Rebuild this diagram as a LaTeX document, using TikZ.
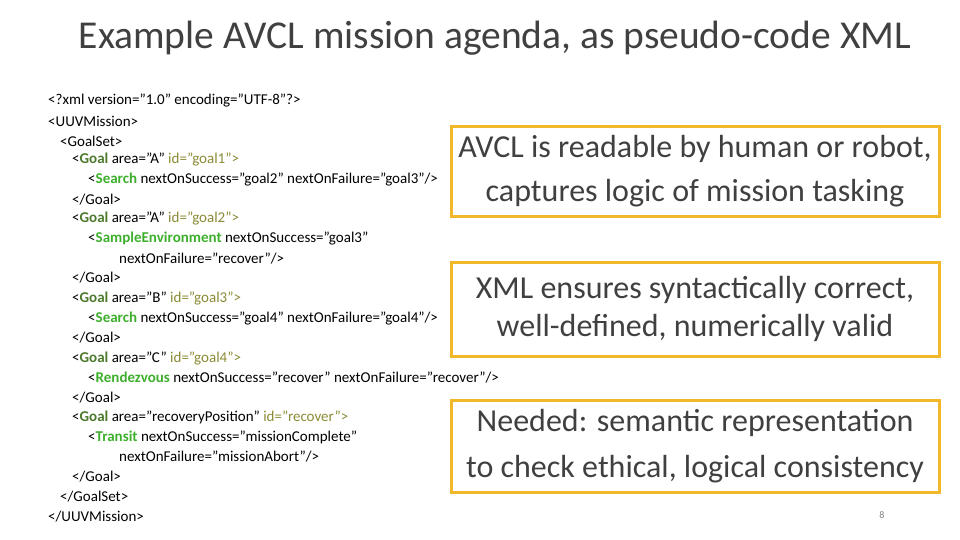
\documentclass[tikz,border=0pt]{standalone}
\usepackage{fontspec}
\setmainfont{Carlito}
\usetikzlibrary{positioning}
\definecolor{boxgold}{HTML}{F2B82C}
\definecolor{textgray}{HTML}{404040}
\definecolor{tagolive}{HTML}{4E7A2E}
\definecolor{attrolive}{HTML}{8A8A35}
\definecolor{elemgreen}{HTML}{3DAF2C}
\newcommand{\tg}[1]{\textcolor{tagolive}{\textbf{#1}}}
\newcommand{\el}[1]{\textcolor{elemgreen}{\textbf{#1}}}
\newcommand{\at}[1]{\textcolor{attrolive}{#1}}
\tikzset{
  codeline/.style={anchor=west, inner sep=0pt, font=\fontsize{15}{16}\selectfont},
  notebox/.style={draw=boxgold, line width=3pt, minimum width=488pt, align=center,
    text=textgray, font=\fontsize{32}{44}\selectfont}
}
\begin{document}
\begin{tikzpicture}[x=1pt, y=-1pt]
\useasboundingbox (0,0) rectangle (960,540);

% Title
\node[font=\fontsize{39.5}{44}\selectfont, text=textgray] (title) at (495,38) {Example AVCL mission agenda, as pseudo-code XML};

% XML listing
\node[codeline] (l1)  at (48,101) {<?xml version="1.0" encoding="UTF-8"?>};
\node[codeline] (l2)  at (48,121) {<UUVMission>};
\node[codeline] (l3)  at (60,141) {<GoalSet>};
\node[codeline] (l4)  at (72,160) {<\tg{Goal} area=”A” \at{id=”goal1”>}};
\node[codeline] (l5)  at (88,180) {<\el{Search} nextOnSuccess=”goal2” nextOnFailure=”goal3”/>};
\node[codeline] (l6)  at (72,200) {</Goal>};
\node[codeline] (l7)  at (72,219) {<\tg{Goal} area=”A” \at{id=”goal2”>}};
\node[codeline] (l8)  at (88,239) {<\el{SampleEnvironment} nextOnSuccess=”goal3”};
\node[codeline] (l9)  at (119,259) {nextOnFailure=”recover”/>};
\node[codeline] (l10) at (72,278) {</Goal>};
\node[codeline] (l11) at (72,298) {<\tg{Goal} area=”B” \at{id=”goal3”>}};
\node[codeline] (l12) at (88,318) {<\el{Search} nextOnSuccess=”goal4” nextOnFailure=”goal4”/>};
\node[codeline] (l13) at (72,338) {</Goal>};
\node[codeline] (l14) at (72,358) {<\tg{Goal} area=”C” \at{id=”goal4”>}};
\node[codeline] (l15) at (88,378) {<\el{Rendezvous} nextOnSuccess=”recover” nextOnFailure=”recover”/>};
\node[codeline] (l16) at (72,398) {</Goal>};
\node[codeline] (l17) at (72,417) {<\tg{Goal} area=”recoveryPosition” \at{id=”recover”>}};
\node[codeline] (l18) at (88,437) {<\el{Transit} nextOnSuccess=”missionComplete”};
\node[codeline] (l19) at (119,457) {nextOnFailure=”missionAbort”/>};
\node[codeline] (l20) at (72,477) {</Goal>};
\node[codeline] (l21) at (60,497) {</GoalSet>};
\node[codeline] (l22) at (48,517) {</UUVMission>};

% Notes
\node[notebox, minimum height=89pt] (readable) at (695,171.5) {AVCL is readable by human or robot,\\captures logic of mission tasking};
\node[notebox, minimum height=94pt, font=\fontsize{32}{38}\selectfont] (syntax) at (695,309) {XML ensures syntactically correct,\\well-defined, numerically valid};
\node[notebox, minimum height=92pt, font=\fontsize{32}{46}\selectfont] (semantic) at (695,446) {Needed: semantic representation\\to check ethical, logical consistency};

% Page number
\node[font=\fontsize{10}{12}\selectfont, text=gray] (page) at (882,515) {8};
\end{tikzpicture}
\end{document}
